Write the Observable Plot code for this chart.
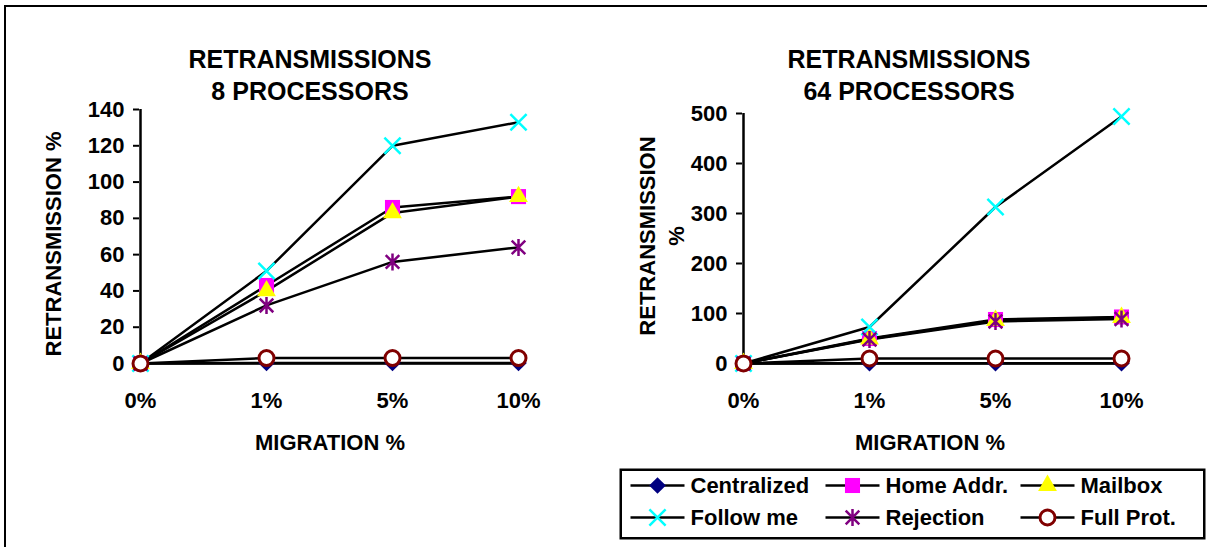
<!DOCTYPE html>
<html><head><meta charset="utf-8">
<script src="https://cdn.jsdelivr.net/npm/d3@7"></script>
<script src="https://cdn.jsdelivr.net/npm/@observablehq/plot@0.6"></script>
<style>
html,body{margin:0;padding:0;background:#fff;}
#fig{position:relative;width:1207px;height:547px;overflow:hidden;background:#fff;font-family:"Liberation Sans",Arial,sans-serif;font-weight:bold;color:#000;}
.abs{position:absolute;white-space:nowrap;}
.title{font-size:25px;line-height:32px;text-align:center;transform:translateX(-50%);}
.lab{font-size:22px;line-height:1;text-align:center;}
#frame{position:absolute;left:4px;top:5px;width:1300px;height:700px;border-top:2.5px solid #000;border-left:2.5px solid #000;}
</style></head><body><div id="fig"><div id="frame"></div></div>
<script>
// ---- data ----
const categories = ["0%", "1%", "5%", "10%"];
const seriesNames = ["Centralized", "Home Addr.", "Mailbox", "Follow me", "Rejection", "Full Prot."];
const ticks8 = [0, 20, 40, 60, 80, 100, 120, 140];
const ticks64 = [0, 100, 200, 300, 400, 500];

const centralized8 = [0, 0.3, 0.3, 0.3];
const homeAddr8    = [0, 43, 86, 92];
const mailbox8     = [0, 40, 83, 92];
const followMe8    = [0, 51, 120, 133];
const rejection8   = [0, 32, 56, 64];
const fullProt8    = [0, 3, 3, 3];

const centralized64 = [0, 0.5, 0.5, 0.5];
const homeAddr64    = [0, 50, 88, 93];
const mailbox64     = [0, 49, 86, 92];
const followMe64    = [0, 73, 313, 494];
const rejection64   = [0, 48, 84, 89];
const fullProt64    = [0, 10, 10, 10];

// ---- styles ----
const seriesColors = ["#000080", "#FF00FF", "#FFFF00", "#00FFFF", "#800080", "#800000"];
const FONT = '"Liberation Sans", Arial, sans-serif';

const symX = {draw(ctx, size) { const r = Math.sqrt(size / Math.PI), a = r * 0.9;
  ctx.moveTo(-a, -a); ctx.lineTo(a, a); ctx.moveTo(-a, a); ctx.lineTo(a, -a); }};
const symAst = {draw(ctx, size) { const r = Math.sqrt(size / Math.PI), a = r * 0.8;
  ctx.moveTo(-a, -a); ctx.lineTo(a, a); ctx.moveTo(-a, a); ctx.lineTo(a, -a);
  ctx.moveTo(0, -r); ctx.lineTo(0, r); }};
const symLine = {draw(ctx, size) { ctx.moveTo(-27, 0); ctx.lineTo(27, 0); }};

const markerStyles = [
  {symbol: "diamond2", r: 7.5, fill: seriesColors[0], stroke: "none"},
  {symbol: "square", r: 8.5, fill: seriesColors[1], stroke: "none"},
  {symbol: "triangle", r: 7, fill: seriesColors[2], stroke: "none"},
  {symbol: symX, r: 9, fill: "none", stroke: seriesColors[3], strokeWidth: 2.5},
  {symbol: symAst, r: 8.5, fill: "none", stroke: seriesColors[4], strokeWidth: 2.5},
  {symbol: "circle", r: 7.5, fill: "#fff", stroke: seriesColors[5], strokeWidth: 3}
];

function tidy(arrays) {
  const rows = [];
  arrays.forEach((vals, i) => vals.forEach((v, j) => rows.push({series: seriesNames[i], cat: categories[j], value: v})));
  return rows;
}

function chart(arrays, ticks, ymax, margins) {
  const data = tidy(arrays);
  const marks = [
    Plot.ruleX([categories[0]], {stroke: "#000", strokeWidth: 2.5}),
    Plot.ruleY([0], {stroke: "#000", strokeWidth: 2.5}),
    Plot.axisY({ticks, tickSize: 6, tickPadding: 9, fontSize: 22, fontWeight: "bold", strokeWidth: 2, label: null}),
    Plot.axisX({tickSize: 0, tickPadding: 29, fontSize: 22, fontWeight: "bold", label: null}),
    Plot.line(data, {x: "cat", y: "value", z: "series", stroke: "#000", strokeWidth: 2.5})
  ];
  seriesNames.forEach((name, i) => {
    marks.push(Plot.dot(data.filter(d => d.series === name), {x: "cat", y: "value", ...markerStyles[i]}));
  });
  return Plot.plot({
    width: 600, height: 460,
    ...margins,
    style: {fontFamily: FONT, fontWeight: "bold", color: "#000", background: "transparent", overflow: "visible"},
    x: {type: "point", domain: categories, padding: 0},
    y: {domain: [0, ymax]},
    marks
  });
}

const fig = document.getElementById("fig");
function place(el, left, top) { el.style.position = "absolute"; el.style.left = left + "px"; el.style.top = top + "px"; fig.appendChild(el); }

const c8 = chart([centralized8, homeAddr8, mailbox8, followMe8, rejection8, fullProt8], ticks8, 140,
  {marginLeft: 139, marginRight: 81, marginTop: 109, marginBottom: 97});
place(c8, 0, 0);
const c64 = chart([centralized64, homeAddr64, mailbox64, followMe64, rejection64, fullProt64], ticks64, 500,
  {marginLeft: 142, marginRight: 78, marginTop: 113, marginBottom: 97});
place(c64, 600, 0);

// legend
const legendData = seriesNames.map((name, i) => ({name, col: i % 3, row: Math.floor(i / 3)}));
const legendMarks = [
  Plot.frame({stroke: "#000", strokeWidth: 2.5}),
  Plot.dot(legendData, {x: "col", y: "row", symbol: symLine, r: 5, stroke: "#000", strokeWidth: 2.5, fill: "none"})
];
legendData.forEach((d, i) => legendMarks.push(Plot.dot([d], {x: "col", y: "row", ...markerStyles[i]})));
legendMarks.push(Plot.text(legendData, {x: "col", y: "row", text: "name", dx: 33, textAnchor: "start", fontSize: 22, fontWeight: "bold"}));
const legend = Plot.plot({
  width: 586, height: 71,
  marginLeft: 1.25, marginRight: 1.25, marginTop: 1.25, marginBottom: 1.25,
  style: {fontFamily: FONT, fontWeight: "bold", color: "#000", background: "#fff", overflow: "visible"},
  x: {type: "point", domain: [0, 1, 2], range: [37, 428], padding: 0, axis: null},
  y: {type: "point", domain: [0, 1], range: [17, 49], padding: 0, axis: null},
  marks: legendMarks
});
place(legend, 619, 468);

// texts
function addText(html, cls, left, top, extra) {
  const d = document.createElement("div");
  d.className = "abs " + cls;
  d.innerHTML = html;
  d.style.left = left + "px"; d.style.top = top + "px";
  if (extra) Object.assign(d.style, extra);
  fig.appendChild(d);
}
addText("RETRANSMISSIONS<br>8 PROCESSORS", "title", 310, 43);
addText("RETRANSMISSIONS<br>64 PROCESSORS", "title", 909, 43);
addText("RETRANSMISSION %", "lab", 54, 244, {transform: "translate(-50%,-50%) rotate(-90deg)"});
addText("RETRANSMISSION<br>%", "lab", 662, 236, {transform: "translate(-50%,-50%) rotate(-90deg)", lineHeight: "29px"});
addText("MIGRATION %", "lab", 330, 443, {transform: "translate(-50%,-50%)"});
addText("MIGRATION %", "lab", 930, 443, {transform: "translate(-50%,-50%)"});
</script></body></html>
